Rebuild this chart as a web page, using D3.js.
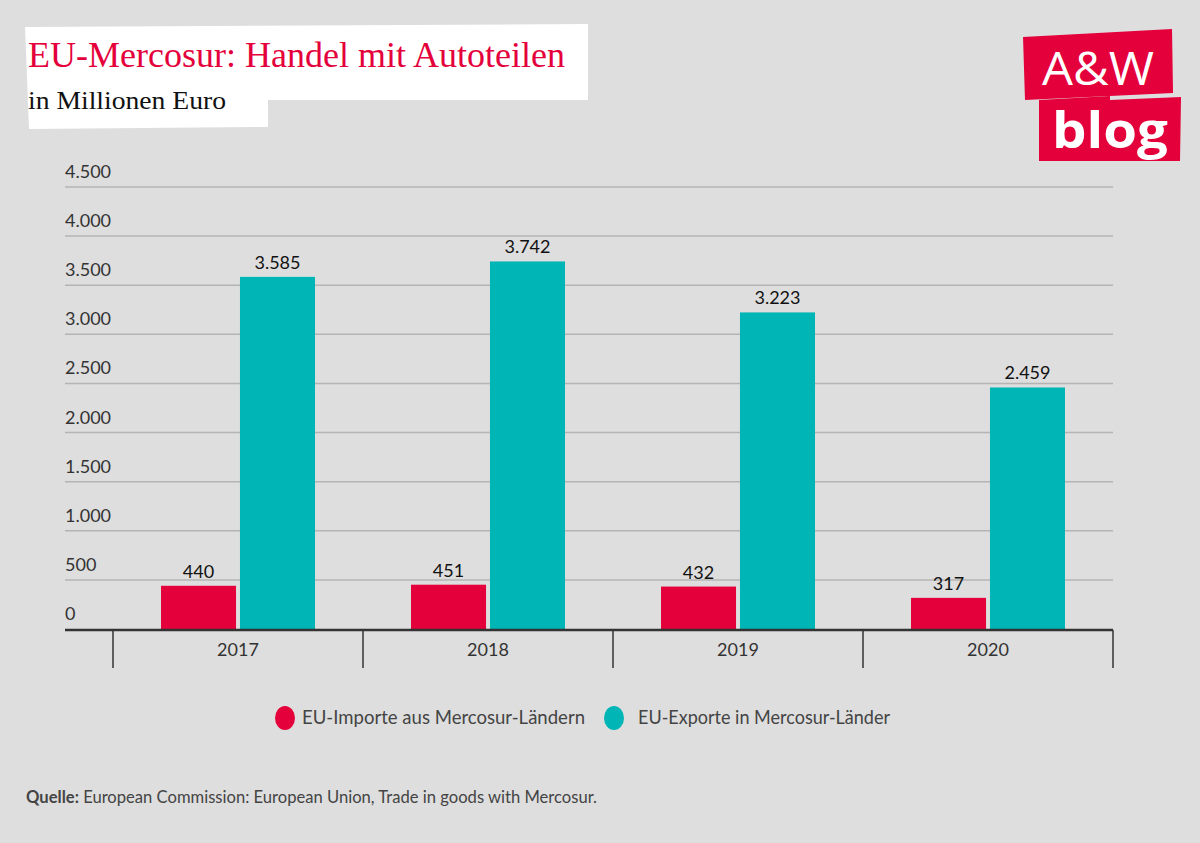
<!DOCTYPE html>
<html><head><meta charset="utf-8">
<script src="https://cdn.jsdelivr.net/npm/d3@7/dist/d3.min.js"></script>
<style>html,body{margin:0;padding:0;background:#dedede;}svg{display:block;}</style>
</head><body>
<svg id="c" width="1200" height="843"></svg>
<script>
const years = ["2017", "2018", "2019", "2020"];
const imports = [440, 451, 432, 317];
const exports_ = [3585, 3742, 3223, 2459];
const seriesNames = ["EU-Importe aus Mercosur-Ländern", "EU-Exporte in Mercosur-Länder"];
const yTicks = [0, 500, 1000, 1500, 2000, 2500, 3000, 3500, 4000, 4500];

const RED = "#e4003b", TEAL = "#00b5b5";
const sans = "Lato, 'Open Sans', sans-serif";
const svg = d3.select("#c");
svg.append("rect").attr("width",1200).attr("height",843).attr("fill","#dedede");

// title boxes
svg.append("polygon").attr("points","25,27 588,24 588,100 268,100 268,127 29,129").attr("fill","#fff");
svg.append("text").attr("x",28).attr("y",67).attr("fill",RED)
  .attr("font-family","'Liberation Serif', serif").attr("font-size",35)
  .attr("textLength",537).attr("lengthAdjust","spacingAndGlyphs")
  .text("EU-Mercosur: Handel mit Autoteilen");
svg.append("text").attr("x",28).attr("y",109).attr("fill","#111")
  .attr("font-family","'Liberation Serif', serif").attr("font-size",25)
  .attr("textLength",198).attr("lengthAdjust","spacingAndGlyphs")
  .text("in Millionen Euro");

// logo
svg.append("polygon").attr("points","1023,37 1172,29 1173,93 1025,100").attr("fill",RED);
svg.append("polygon").attr("points","1039,103 1181,97 1180,161 1039,161").attr("fill",RED);
svg.append("polygon").attr("points","1039,100 1110,96 1110,104 1039,104").attr("fill",RED);
svg.append("text").attr("x",1098).attr("y",85).attr("text-anchor","middle").attr("fill","#fff")
  .attr("font-family","'Open Sans', sans-serif").attr("font-size",46).attr("font-weight",400)
  .attr("textLength",112).attr("lengthAdjust","spacingAndGlyphs").text("A&W");
svg.append("text").attr("x",1110).attr("y",148).attr("text-anchor","middle").attr("fill","#fff")
  .attr("font-family","'Open Sans', sans-serif").attr("font-size",50).attr("font-weight",700)
  .attr("textLength",116).attr("lengthAdjust","spacingAndGlyphs").text("blog");

// scales
const x0 = d3.scaleBand().domain(years).range([113,1113]).paddingInner(0).paddingOuter(0);
const y = d3.scaleLinear().domain([0,4500]).range([629,187]);
const inner = d3.scaleBand().domain([0,1]).range([48, 202]).paddingInner(0.05);
const fmt = v => d3.format(",")(v).replace(/,/g,".");

// gridlines + labels
const gy = svg.append("g");
yTicks.forEach(v=>{
  if(v>0) gy.append("line").attr("x1",65).attr("x2",1113).attr("y1",y(v)).attr("y2",y(v))
    .attr("stroke","#b4b4b4").attr("stroke-width",1.5);
  gy.append("text").attr("x",65).attr("y",y(v)-9).attr("fill","#333")
    .attr("font-family",sans).attr("font-size",18).text(fmt(v));
});

// bars
const data = years.map((yr,i)=>({yr, vals:[imports[i], exports_[i]]}));
const g = svg.append("g");
data.forEach(d=>{
  d.vals.forEach((v,k)=>{
    const bx = x0(d.yr)+inner(k);
    g.append("rect").attr("x",bx).attr("y",y(v)).attr("width",inner.bandwidth())
      .attr("height",y(0)-y(v)).attr("fill",k===0?RED:TEAL);
    g.append("text").attr("x",bx+inner.bandwidth()/2).attr("y",y(v)-8).attr("text-anchor","middle")
      .attr("fill","#111").attr("font-family",sans).attr("font-size",18).text(fmt(v));
  });
});

// x axis
svg.append("line").attr("x1",65).attr("x2",1113).attr("y1",630).attr("y2",630).attr("stroke","#333").attr("stroke-width",2.5);
const xa = svg.append("g");
years.concat(["end"]).forEach((yr,i)=>{
  const xx = i<years.length ? x0(yr) : x0(years[years.length-1])+x0.bandwidth();
  xa.append("line").attr("x1",xx).attr("x2",xx).attr("y1",630).attr("y2",668).attr("stroke","#333").attr("stroke-width",1.5);
});
years.forEach(yr=>{
  xa.append("text").attr("x",x0(yr)+x0.bandwidth()/2).attr("y",656).attr("text-anchor","middle")
    .attr("fill","#333").attr("font-family",sans).attr("font-size",18).text(yr);
});

// legend
const lg = svg.append("g");
[[285,RED,302,283],[614,TEAL,638,252]].forEach((p,i)=>{
  lg.append("ellipse").attr("cx",p[0]).attr("cy",718).attr("rx",10).attr("ry",12).attr("fill",p[1]);
  lg.append("text").attr("x",p[2]).attr("y",724).attr("fill","#444").attr("font-family",sans)
    .attr("font-size",18.6).attr("textLength",p[3]).attr("lengthAdjust","spacingAndGlyphs")
    .text(seriesNames[i]);
});

// source
const s = svg.append("text").attr("x",26).attr("y",803).attr("fill","#444").attr("font-family",sans).attr("font-size",16.6);
s.append("tspan").attr("font-weight",700).text("Quelle:");
s.append("tspan").text(" European Commission: European Union, Trade in goods with Mercosur.");
</script>
</body></html>
